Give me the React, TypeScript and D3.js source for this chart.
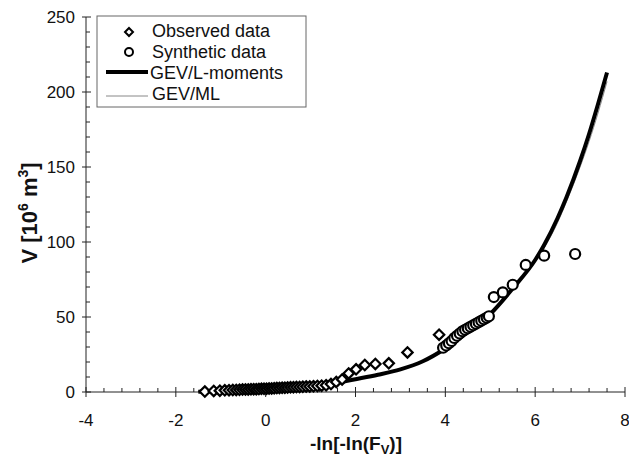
import React from "react";
import * as d3 from "d3";

const obsX = [-1.354, -1.156, -1.02, -0.91, -0.816, -0.732, -0.655, -0.583, -0.515, -0.45, -0.388, -0.327, -0.267, -0.209, -0.151, -0.094, -0.037, 0.019, 0.076, 0.133, 0.19, 0.248, 0.307, 0.367, 0.427, 0.489, 0.553, 0.618, 0.685, 0.755, 0.827, 0.903, 0.982, 1.065, 1.152, 1.246, 1.346, 1.454, 1.572, 1.702, 1.848, 2.013, 2.207, 2.442, 2.741, 3.157, 3.861];
const obsV = [0.3, 0.7, 0.9, 1.1, 1.2, 1.3, 1.4, 1.5, 1.6, 1.7, 1.7, 1.8, 1.9, 1.9, 2.0, 2.1, 2.1, 2.2, 2.3, 2.4, 2.5, 2.6, 2.7, 2.8, 2.9, 3.0, 3.1, 3.2, 3.3, 3.4, 3.5, 3.6, 3.7, 3.8, 4.0, 4.2, 4.5, 5.3, 6.7, 8.4, 12.4, 15.1, 18.0, 18.7, 19.1, 26.4, 38.2];

const synX = [3.95, 4.02, 4.08, 4.14, 4.2, 4.26, 4.32, 4.38, 4.44, 4.5, 4.56, 4.62, 4.68, 4.74, 4.8, 4.86, 4.92, 4.97, 5.08, 5.28, 5.5, 5.79, 6.2, 6.89];
const synV = [29.5, 31, 32.5, 34, 36, 37.5, 39, 40.5, 41.5, 42.5, 43.5, 44.5, 45.5, 46.5, 47.5, 48.5, 49.5, 50.5, 63.3, 66.4, 71.5, 84.7, 90.9, 92];

const lmX = [-1.5, -1.0, -0.5, 0, 0.5, 1.0, 1.5, 2.0, 2.5, 3.0, 3.5, 4.0, 4.5, 5.0, 5.5, 6.0, 6.2, 6.5, 6.7, 7.0, 7.2, 7.4, 7.6];
const lmV = [0.2, 0.8, 1.4, 2.1, 2.9, 3.9, 5.6, 8.5, 11.5, 15.1, 20.5, 29, 40, 52, 69, 88, 98, 116, 130, 154, 172, 192, 213];
const mlV = [0.2, 0.8, 1.4, 2.1, 2.9, 3.9, 5.6, 8.5, 11.5, 15.1, 20.5, 29, 40, 52, 69, 87, 96, 113, 127, 150, 167, 186, 207];

const xTicks = [-4, -2, 0, 2, 4, 6, 8];
const yTicks = [0, 50, 100, 150, 200, 250];

const FONT = "'Liberation Sans', Arial, Helvetica, sans-serif";

export default function App() {
  const W = 629, H = 457;
  const x = d3.scaleLinear().domain([-4, 8]).range([86, 625]);
  const y = d3.scaleLinear().domain([0, 250]).range([392, 17]);

  const line = d3
    .line<number>()
    .x((d, i) => x(lmX[i]))
    .y((d) => y(d))
    .curve(d3.curveMonotoneX);

  const xMinor = d3.range(-4, 8.001, 0.4).filter((v) => Math.abs(v / 2 - Math.round(v / 2)) > 1e-6);
  const yMinor = d3.range(0, 250.001, 10).filter((v) => v % 50 !== 0);

  const diamond = (cx: number, cy: number, r: number) =>
    `M${cx},${cy - r}L${cx + r},${cy}L${cx},${cy + r}L${cx - r},${cy}Z`;

  return (
    <svg
      width={W}
      height={H}
      style={{ position: "absolute", left: 0, top: 0, background: "#fff" }}
      fontFamily={FONT}
    >
      <rect x={0} y={0} width={W} height={H} fill="#fff" />
      {/* axes */}
      <line x1={x(-4)} x2={x(8)} y1={y(0)} y2={y(0)} stroke="#222" strokeWidth={1} />
      <line x1={x(-4)} x2={x(-4)} y1={y(0)} y2={y(250)} stroke="#222" strokeWidth={1} />
      {xTicks.map((t) => (
        <g key={"xt" + t}>
          <line x1={x(t)} x2={x(t)} y1={y(0) - 5} y2={y(0) + 5} stroke="#222" strokeWidth={1} />
          <text x={x(t)} y={426} textAnchor="middle" fontSize={17} fill="#111">
            {t}
          </text>
        </g>
      ))}
      {xMinor.map((t, i) => (
        <line key={"xm" + i} x1={x(t)} x2={x(t)} y1={y(0) - 4} y2={y(0)} stroke="#222" strokeWidth={1} />
      ))}
      {yTicks.map((t) => (
        <g key={"yt" + t}>
          <line x1={x(-4) - 4} x2={x(-4) + 5} y1={y(t)} y2={y(t)} stroke="#222" strokeWidth={1} />
          <text x={75} y={y(t) + 6} textAnchor="end" fontSize={17} fill="#111">
            {t}
          </text>
        </g>
      ))}
      {yMinor.map((t, i) => (
        <line key={"ym" + i} x1={x(-4)} x2={x(-4) + 4} y1={y(t)} y2={y(t)} stroke="#222" strokeWidth={1} />
      ))}

      {/* axis titles */}
      <text x={356} y={450} textAnchor="middle" fontSize={19} fontWeight="bold" fill="#111">
        -ln[-ln(F
        <tspan fontSize={13} dy={4}>V</tspan>
        <tspan dy={-4}>)]</tspan>
      </text>
      <text
        transform={`translate(37,213) rotate(-90)`}
        textAnchor="middle"
        fontSize={22}
        fontWeight="bold"
        fill="#111"
      >
        V [10
        <tspan fontSize={14} dy={-9}>6</tspan>
        <tspan dy={9}> m</tspan>
        <tspan fontSize={14} dy={-9}>3</tspan>
        <tspan dy={9}>]</tspan>
      </text>

      {/* curves */}
      <path d={line(mlV) || ""} fill="none" stroke="#888" strokeWidth={1} />
      <path d={line(lmV) || ""} fill="none" stroke="#000" strokeWidth={4} />

      {/* observed */}
      {obsX.map((v, i) => (
        <path key={"o" + i} d={diamond(x(v), y(obsV[i]), 5.2)} fill="#fff" stroke="#000" strokeWidth={2.2} />
      ))}
      {/* synthetic */}
      {synX.map((v, i) => (
        <circle key={"s" + i} cx={x(v)} cy={y(synV[i])} r={5} fill="#fff" stroke="#000" strokeWidth={2.2} />
      ))}

      {/* legend */}
      <rect x={97} y={16} width={209} height={91} fill="#fff" stroke="#666" strokeWidth={1} />
      <path d={diamond(129, 32, 4)} fill="#fff" stroke="#000" strokeWidth={2} />
      <circle cx={129} cy={52} r={4} fill="#fff" stroke="#000" strokeWidth={2} />
      <line x1={106} x2={148} y1={72} y2={72} stroke="#000" strokeWidth={4} />
      <line x1={106} x2={148} y1={96} y2={96} stroke="#888" strokeWidth={1} />
      <text x={152} y={37} fontSize={18} fill="#111">Observed data</text>
      <text x={152} y={58} fontSize={18} fill="#111">Synthetic data</text>
      <text x={150} y={79} fontSize={18} fill="#111">GEV/L-moments</text>
      <text x={152} y={100} fontSize={18} fill="#111">GEV/ML</text>
    </svg>
  );
}
